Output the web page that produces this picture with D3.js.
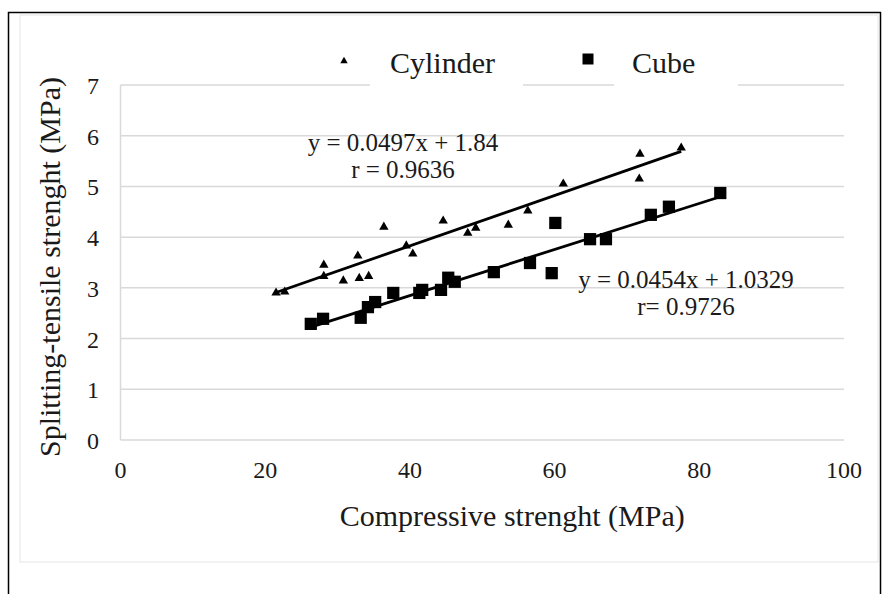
<!DOCTYPE html>
<html>
<head>
<meta charset="utf-8">
<script src="https://cdn.jsdelivr.net/npm/d3@7"></script>
<style>
    body { margin: 0; background: #ffffff; }
    svg text { font-family: "Liberation Serif", "Times New Roman", serif; fill: #1a1a1a; }
</style>
</head>
<body>
<div id="chart"></div>
<script>
// Cylinder specimens: compressive vs splitting-tensile strength (MPa)
const cylinderX = [21.5, 22.7, 28.1, 28.1, 30.8, 32.8, 33.0, 34.3, 36.4, 39.5,
                   40.4, 44.6, 48.0, 49.1, 53.6, 56.3, 61.2, 71.8, 71.7, 77.5];
const cylinderY = [2.92, 2.94, 3.47, 3.25, 3.16, 3.65, 3.21, 3.25, 4.22, 3.85,
                   3.69, 4.34, 4.10, 4.20, 4.26, 4.54, 5.07, 5.66, 5.17, 5.78];

// Cube specimens
const cubeX = [26.3, 28.0, 33.2, 34.2, 35.2, 37.7, 41.3, 41.7, 44.3, 45.3,
               46.2, 51.6, 56.6, 59.6, 60.1, 64.9, 67.1, 73.3, 75.8, 82.9];
const cubeY = [2.29, 2.39, 2.41, 2.62, 2.72, 2.90, 2.90, 2.96, 2.96, 3.20,
               3.12, 3.31, 3.49, 3.29, 4.28, 3.96, 3.96, 4.44, 4.60, 4.87];

// Linear fits as printed on the chart
const seriesNames = ["Cylinder", "Cube"];
const fitSlope = [0.0497, 0.0454];
const fitIntercept = [1.84, 1.0329];
const fitLabels = [["y = 0.0497x + 1.84", "r = 0.9636"], ["y = 0.0454x + 1.0329", "r= 0.9726"]];

const xTicks = [0, 20, 40, 60, 80, 100];
const yTicks = [0, 1, 2, 3, 4, 5, 6, 7];

const width = 887;
const height = 594;

const svg = d3.select('#chart').append('svg')
    .attr('width', width)
    .attr('height', height);

// outer frame + faint chart area border
svg.append('rect')
    .attr('x', 8.5).attr('y', 12.5)
    .attr('width', 872).attr('height', 600)
    .attr('fill', 'none').attr('stroke', '#000').attr('stroke-width', 1.5);
svg.append('rect')
    .attr('x', 20).attr('y', 15)
    .attr('width', 858).attr('height', 547)
    .attr('fill', 'none').attr('stroke', '#e6e6e6').attr('stroke-width', 1);

const x = d3.scaleLinear().domain([0, 100]).range([120.5, 844]);
const y = d3.scaleLinear().domain([0, 7]).range([440, 85]);

// gridlines
svg.append('g')
    .selectAll('line')
    .data(yTicks)
    .enter().append('line')
    .attr('x1', x(0)).attr('x2', x(100))
    .attr('y1', d => y(d)).attr('y2', d => y(d))
    .attr('stroke', '#d9d9d9').attr('stroke-width', 1.5);

// y axis line
svg.append('line')
    .attr('x1', x(0)).attr('x2', x(0))
    .attr('y1', y(0)).attr('y2', y(7))
    .attr('stroke', '#d9d9d9').attr('stroke-width', 1.5);

// tick labels
svg.append('g')
    .selectAll('text')
    .data(xTicks)
    .enter().append('text')
    .attr('x', d => x(d))
    .attr('y', 478)
    .attr('text-anchor', 'middle')
    .style('font-size', '24px')
    .text(d => d);

svg.append('g')
    .selectAll('text')
    .data(yTicks)
    .enter().append('text')
    .attr('x', 99)
    .attr('y', d => y(d) + 9)
    .attr('text-anchor', 'end')
    .style('font-size', '24px')
    .text(d => d);

// axis titles
svg.append('text')
    .attr('x', (x(0) + x(100)) / 2 + 30)
    .attr('y', 526)
    .attr('text-anchor', 'middle')
    .style('font-size', '30px')
    .text('Compressive strenght (MPa)');

svg.append('text')
    .attr('transform', 'translate(60, 267) rotate(-90)')
    .attr('text-anchor', 'middle')
    .style('font-size', '30px')
    .text('Splitting-tensile strenght (MPa)');

// trend lines
const seriesX = [cylinderX, cubeX];
seriesX.forEach(function(xs, i) {
    const x0 = d3.min(xs), x1 = d3.max(xs);
    svg.append('line')
        .attr('x1', x(x0)).attr('y1', y(fitSlope[i] * x0 + fitIntercept[i]))
        .attr('x2', x(x1)).attr('y2', y(fitSlope[i] * x1 + fitIntercept[i]))
        .attr('stroke', '#000').attr('stroke-width', 2.8);
});

// markers
const triangle = d3.symbol().type(d3.symbolTriangle).size(38);
const square = d3.symbol().type(d3.symbolSquare).size(150);

svg.append('g')
    .selectAll('path')
    .data(d3.zip(cylinderX, cylinderY))
    .enter().append('path')
    .attr('d', triangle)
    .attr('transform', d => `translate(${x(d[0])}, ${y(d[1]) + 1})`)
    .attr('fill', '#000');

svg.append('g')
    .selectAll('path')
    .data(d3.zip(cubeX, cubeY))
    .enter().append('path')
    .attr('d', square)
    .attr('transform', d => `translate(${x(d[0])}, ${y(d[1])})`)
    .attr('fill', '#000');

// fit equations
const eqPos = [[403, 151], [686, 288]];
fitLabels.forEach(function(lines, i) {
    const t = svg.append('text')
        .attr('text-anchor', 'middle')
        .style('font-size', '25px');
    lines.forEach(function(line, j) {
        t.append('tspan')
            .attr('x', eqPos[i][0])
            .attr('y', eqPos[i][1] + j * 27)
            .text(line);
    });
});

// legend (white boxes sit over the top gridline)
const legendBoxes = [[370, 523], [614, 738]];
const legendMarkerX = [344, 588];
const legendTextX = [390, 632];
const legendSymbols = [d3.symbol().type(d3.symbolTriangle).size(24), d3.symbol().type(d3.symbolSquare).size(121)];

seriesNames.forEach(function(name, i) {
    svg.append('rect')
        .attr('x', legendBoxes[i][0]).attr('y', 36)
        .attr('width', legendBoxes[i][1] - legendBoxes[i][0]).attr('height', 54)
        .attr('fill', '#fff');
    svg.append('path')
        .attr('d', legendSymbols[i])
        .attr('transform', `translate(${legendMarkerX[i]}, ${i === 0 ? 61 : 59})`)
        .attr('fill', '#000');
    svg.append('text')
        .attr('x', legendTextX[i])
        .attr('y', 73)
        .style('font-size', '30px')
        .text(name);
});
</script>
</body>
</html>
